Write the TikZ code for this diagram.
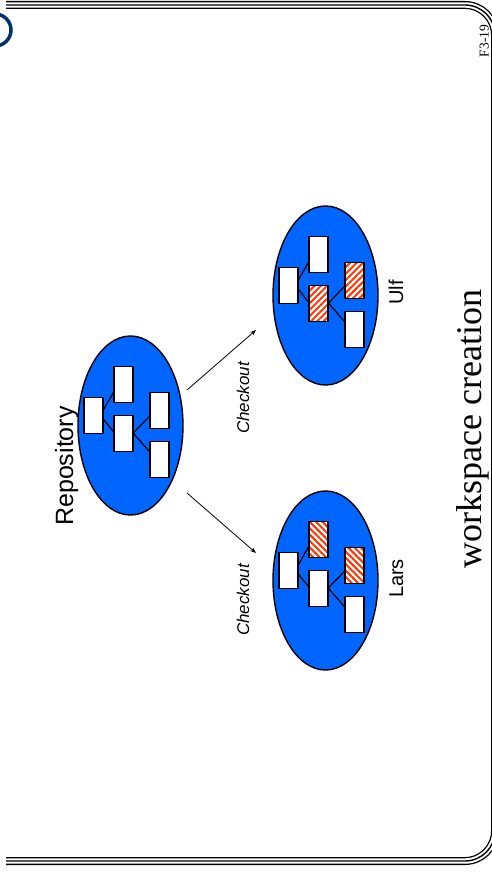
\documentclass[tikz,border=0pt]{standalone}
\usepackage{fontspec}
\setmainfont{Liberation Sans}
\newfontfamily\serifrm{Liberation Serif}
\usetikzlibrary{shapes.geometric,patterns.meta,calc,arrows.meta}
\definecolor{wsblue}{RGB}{0,102,255}
\definecolor{hatchred}{RGB}{255,51,0}
\definecolor{logonavy}{RGB}{0,51,110}
\tikzset{
  ws/.style={ellipse, draw=black, line width=1.4pt, fill=wsblue, minimum width=105pt, minimum height=179pt, inner sep=0pt},
  leaf/.style={draw=black, line width=1.3pt, fill=white, minimum width=19pt, minimum height=36pt, inner sep=0pt},
  hatchU/.style={leaf, preaction={fill=white}, pattern={Lines[angle=45,distance=4.5pt,line width=2pt]}, pattern color=hatchred},
  hatchL/.style={leaf, preaction={fill=white}, pattern={Lines[angle=-45,distance=4.5pt,line width=2pt]}, pattern color=hatchred},
  link/.style={line width=1.2pt},
  flow/.style={line width=0.8pt, -{Stealth[length=6pt,width=4.5pt]}},
  lab/.style={rotate=90, anchor=base, inner sep=0pt},
  frameA/.style={line width=8pt, black, rounded corners=30pt},
  frameB/.style={line width=5.4pt, white, rounded corners=30pt},
  frameC/.style={line width=1.4pt, black, rounded corners=30pt},
}
% #1 prefix, #2 centre node, #3 style of B, #4 style of C, #5 style of D
\newcommand{\wstree}[5]{%
  \node[leaf] (#1A) at ($(#2)+(-37,-10)$) {};
  \node[#3] (#1B) at ($(#2)+(-7,-41)$) {};
  \node[#4] (#1C) at ($(#2)+(-7,8)$) {};
  \node[#5] (#1D) at ($(#2)+(29,-15)$) {};
  \node[leaf] (#1E) at ($(#2)+(29,34)$) {};
  \draw[link] ($(#1A.east)+(0,-6)$) -- ($(#1B.west)+(0,8)$);
  \draw[link] ($(#1A.east)+(0,4)$) -- ($(#1C.west)+(0,-2)$);
  \draw[link] ($(#1C.east)+(0,-1)$) -- ($(#1D.west)+(0,6)$);
  \draw[link] ($(#1C.east)+(0,0)$) -- ($(#1E.west)+(0,-8)$);
}
\begin{document}
\begin{tikzpicture}[x=1pt,y=-1pt]
\useasboundingbox (0,0) rectangle (491,874);
% frame
\draw[frameA] (6,5) -- (495,5) -- (495,861) -- (6,861);
\draw[frameB] (6,5) -- (495,5) -- (495,861) -- (6,861);
\draw[frameC] (6,5) -- (495,5) -- (495,861) -- (6,861);
% logo fragment
\draw[logonavy, line width=3.5pt] (-5,30) circle[radius=16pt];
% workspaces
\node[ws] (repo) at (130.5,425.5) {};
\node[ws] (ulf) at (325.5,295.5) {};
\node[ws] (lars) at (325.5,580.5) {};
\wstree{r}{repo}{leaf}{leaf}{leaf}
\wstree{u}{ulf}{leaf}{hatchU}{hatchU}
\wstree{l}{lars}{hatchL}{leaf}{hatchL}
% arrows
\coordinate (u1) at (187,390);
\coordinate (u2) at (256,330);
\coordinate (l1) at (187,493);
\coordinate (l2) at (256,553);
\draw[flow] (u1) -- (u2);
\draw[flow] (l1) -- (l2);
% labels
\node[lab, font=\fontsize{25}{30}\selectfont] (repolab) at (73,466) {Repository};
\node[lab, font=\fontsize{20}{24}\selectfont] (ulflab) at (403,292.5) {Ulf};
\node[lab, font=\fontsize{20}{24}\selectfont] (larslab) at (403,578.5) {Lars};
\node[lab, font=\fontsize{17}{20}\selectfont\itshape] (co1) at (249,398) {Checkout};
\node[lab, font=\fontsize{17}{20}\selectfont\itshape] (co2) at (249,600) {Checkout};
\node[lab, font=\fontsize{36}{42}\selectfont\serifrm] (title) at (481.5,429) {workspace creation};
\node[lab, font=\fontsize{13.5}{16}\selectfont\serifrm] (pg) at (488.5,41) {F3-19};
\end{tikzpicture}
\end{document}
